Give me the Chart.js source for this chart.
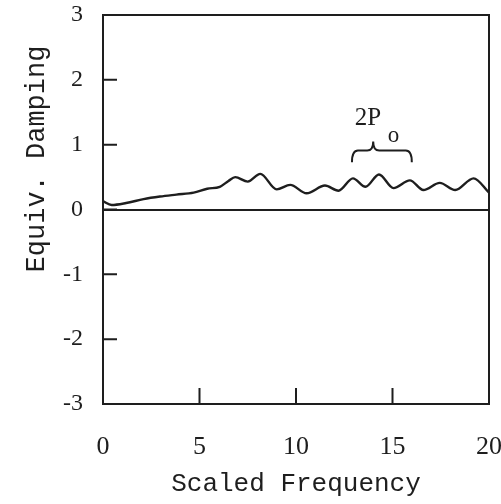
<!DOCTYPE html>
<html>
<head>
<meta charset="utf-8">
<script src="https://cdn.jsdelivr.net/npm/chart.js@4.4.1/dist/chart.umd.min.js"></script>
<style>
  body { margin: 0; background: #fff; }
  canvas { display: block; }
</style>
</head>
<body>
<canvas id="dampingChart" width="501" height="504"></canvas>
<script>
// values
const freq = [0.0, 0.45, 1.2, 2.1, 2.95, 3.8, 4.7, 5.4, 6.05, 6.5, 6.85, 7.5, 8.15, 9.0, 9.7, 10.55, 11.5, 12.2, 12.95, 13.6, 14.3, 15.05, 15.9, 16.6, 17.45, 18.25, 19.2, 20.0];
const damping = [0.13, 0.07, 0.10, 0.16, 0.20, 0.23, 0.26, 0.32, 0.35, 0.44, 0.50, 0.43, 0.55, 0.31, 0.38, 0.25, 0.37, 0.29, 0.48, 0.35, 0.54, 0.33, 0.45, 0.30, 0.41, 0.30, 0.48, 0.26];
const xTicks = [0, 5, 10, 15, 20];
const yTicks = [-3, -2, -1, 0, 1, 2, 3];

// brace marking 2P_o (in data units)
const braceEnds = [12.9, 16.0];
const braceTip = 14.0;
const braceLevels = [0.73, 0.91, 1.05]; // ends, bar, tip

const ink = '#1e1e1e';
const serif = '"Liberation Serif", "DejaVu Serif", serif';
const mono = '"Liberation Mono", "DejaVu Sans Mono", monospace';

/**
 * Draws the frame, the inward tick marks, the brace annotation and the y title.
 */
const figurePlugin = {
  id: 'figure',
  afterDatasetsDraw(chart) {
    const { ctx, chartArea: a, scales: { x, y } } = chart;
    ctx.save();
    ctx.strokeStyle = ink;
    ctx.lineWidth = 2;
    ctx.strokeRect(a.left, a.top, a.right - a.left, a.bottom - a.top);

    // inward ticks
    ctx.beginPath();
    yTicks.slice(1, -1).forEach(v => {
      const py = y.getPixelForValue(v);
      ctx.moveTo(a.left, py);
      ctx.lineTo(a.left + 14, py);
    });
    xTicks.slice(1, -1).forEach(v => {
      const px = x.getPixelForValue(v);
      ctx.moveTo(px, a.bottom);
      ctx.lineTo(px, a.bottom - 16);
    });
    ctx.stroke();

    // brace
    const x1 = x.getPixelForValue(braceEnds[0]);
    const x2 = x.getPixelForValue(braceEnds[1]);
    const xc = x.getPixelForValue(braceTip);
    const yEnd = y.getPixelForValue(braceLevels[0]);
    const yBar = y.getPixelForValue(braceLevels[1]);
    const yTip = y.getPixelForValue(braceLevels[2]);
    ctx.lineWidth = 2;
    ctx.beginPath();
    ctx.moveTo(x1, yEnd);
    ctx.quadraticCurveTo(x1, yBar, x1 + 6, yBar);
    ctx.lineTo(xc - 6, yBar);
    ctx.quadraticCurveTo(xc, yBar, xc, yTip);
    ctx.quadraticCurveTo(xc, yBar, xc + 6, yBar);
    ctx.lineTo(x2 - 6, yBar);
    ctx.quadraticCurveTo(x2, yBar, x2, yEnd);
    ctx.stroke();

    // 2P with subscript o
    ctx.fillStyle = ink;
    ctx.font = '25px ' + serif;
    ctx.textAlign = 'left';
    ctx.textBaseline = 'alphabetic';
    const lx = x.getPixelForValue(13.05);
    const ly = y.getPixelForValue(1.31);
    ctx.fillText('2P', lx, ly);
    ctx.font = '23px ' + serif;
    ctx.fillText('o', lx + 33, ly + 17);

    // y axis title, set a bit above the middle like the original
    ctx.font = '27px ' + mono;
    ctx.textAlign = 'center';
    ctx.translate(44, 159);
    ctx.rotate(-Math.PI / 2);
    ctx.fillText('Equiv. Damping', 0, 0);
    ctx.restore();
  }
};

// keep the plot box where the original has it: no extra room for edge labels
function noEdgePadding(s) {
  s.paddingLeft = 0;
  s.paddingRight = 0;
  s.paddingTop = 0;
  s.paddingBottom = 0;
}

function init() {
  const ctx = document.getElementById('dampingChart').getContext('2d');
  new Chart(ctx, {
    type: 'line',
    data: {
      datasets: [{
        data: freq.map((f, i) => ({ x: f, y: damping[i] })),
        borderColor: ink,
        borderWidth: 2.4,
        pointRadius: 0,
        cubicInterpolationMode: 'monotone',
        fill: false
      }]
    },
    options: {
      responsive: false,
      animation: false,
      layout: { padding: { top: 15, right: 12, left: 0, bottom: 0 } },
      plugins: { legend: { display: false }, tooltip: { enabled: false } },
      scales: {
        x: {
          type: 'linear',
          min: 0,
          max: 20,
          afterBuildTicks: s => { s.ticks = xTicks.map(v => ({ value: v })); },
          afterFit: s => { s.height = 100; noEdgePadding(s); },
          border: { display: false },
          grid: { display: false },
          ticks: { color: ink, padding: 20, maxRotation: 0, font: { family: serif, size: 26 } },
          title: {
            display: true,
            text: 'Scaled Frequency',
            color: ink,
            padding: { top: 0, bottom: 4 },
            font: { family: mono, size: 26 }
          }
        },
        y: {
          min: -3,
          max: 3,
          afterBuildTicks: s => { s.ticks = yTicks.map(v => ({ value: v })); },
          afterFit: s => { s.width = 103; noEdgePadding(s); },
          border: { display: false },
          grid: {
            drawTicks: false,
            lineWidth: 2,
            color: c => (c.tick && c.tick.value === 0 ? ink : 'rgba(0,0,0,0)')
          },
          ticks: { color: ink, padding: 20, font: { family: serif, size: 24 } }
        }
      }
    },
    plugins: [figurePlugin]
  });
}

document.addEventListener('DOMContentLoaded', init);
</script>
</body>
</html>
